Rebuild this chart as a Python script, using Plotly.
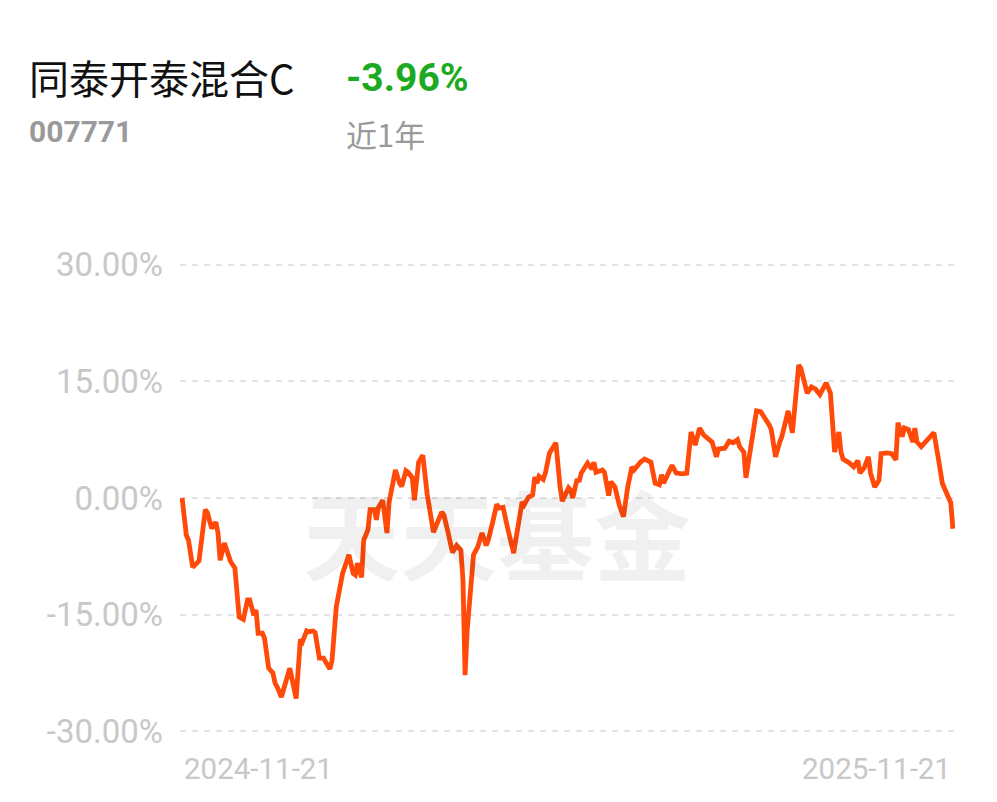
import pandas as pd
import plotly.graph_objects as go

# ---- data ----
start_date = "2024-11-21"
end_date = "2025-11-21"
day_offsets = [0, 2, 3, 5, 8, 11, 12, 14, 16, 17, 18, 20, 23, 25, 27, 29, 31, 32, 34, 35,
               36, 38, 39, 41, 43, 44, 45, 47, 51, 54, 56, 57, 59, 60, 62, 63, 65, 67, 68, 70,
               71, 73, 76, 79, 81, 82, 83, 85, 86, 88, 89, 91, 92, 93, 95, 97, 98, 101, 103, 104,
               106, 107, 109, 110, 112, 114, 116, 119, 123, 124, 126, 128, 130, 132, 133, 134, 135, 137, 138, 140,
               142, 144, 145, 147, 149, 150, 152, 154, 155, 157, 158, 161, 162, 164, 166, 167, 168, 169, 171, 172,
               174, 176, 177, 179, 180, 183, 184, 185, 187, 188, 189, 192, 194, 195, 196, 199, 200, 202, 203, 205,
               207, 209, 211, 213, 214, 217, 219, 222, 224, 226, 227, 228, 230, 232, 234, 237, 239, 241, 243, 245,
               247, 249, 251, 253, 254, 257, 259, 261, 263, 264, 266, 267, 269, 272, 274, 276, 278, 279, 281, 283,
               284, 287, 289, 292, 293, 296, 298, 300, 302, 305, 307, 309, 311, 312, 313, 316, 318, 320, 321, 323,
               325, 326, 328, 330, 331, 334, 336, 338, 339, 341, 342, 344, 346, 347, 348, 350, 353, 356, 358, 360,
               363, 364, 365]
returns_pct = [0.0, -4.8, -5.4, -8.9, -8.1, -1.5, -1.9, -3.9, -3.1, -4.5, -8.0, -5.8, -8.2, -9.0, -15.3, -15.6, -13.1, -13.1, -15.1, -14.4,
               -17.4, -17.4, -18.0, -21.9, -22.5, -23.8, -24.3, -25.6, -21.9, -25.8, -18.2, -18.5, -17.1, -17.2, -17.1, -17.3, -20.6, -20.6, -21.1, -22.0,
               -20.9, -14.0, -9.7, -7.3, -9.7, -9.9, -8.4, -10.2, -5.4, -4.1, -1.5, -1.5, -2.8, -1.2, -0.3, -4.5, -0.6, 3.6, 1.9, 1.5,
               3.5, 3.3, 2.6, -0.3, 4.6, 5.5, 0.6, -4.4, -1.8, -2.2, -4.5, -7.0, -6.1, -6.7, -10.6, -22.8, -17.0, -10.6, -7.3, -6.3,
               -4.5, -6.1, -5.4, -3.2, -0.8, -1.3, -1.2, -3.7, -5.0, -7.1, -5.4, -0.5, -0.9, 0.1, 0.4, 2.7, 1.9, 2.8, 2.4, 3.2,
               5.8, 6.8, 7.1, 1.4, -0.4, 1.3, 1.0, 0.0, 2.4, 2.1, 3.2, 4.5, 3.7, 4.6, 3.3, 3.6, 3.3, 0.3, 2.1, 1.4,
               -0.9, -2.4, 1.4, 4.0, 3.6, 4.6, 5.0, 4.6, 1.9, 1.7, 3.0, 1.9, 3.2, 4.2, 3.2, 3.1, 3.2, 8.5, 6.8, 9.0,
               8.1, 7.6, 7.2, 5.3, 6.3, 6.4, 7.3, 7.1, 7.5, 6.6, 5.9, 2.6, 6.2, 11.2, 11.1, 10.3, 9.4, 8.8, 5.3, 7.2,
               7.9, 11.2, 8.4, 17.1, 16.7, 13.5, 14.3, 14.0, 13.3, 14.8, 13.5, 5.9, 8.5, 5.9, 5.0, 4.5, 4.0, 4.8, 3.2, 3.9,
               5.3, 3.2, 1.4, 2.3, 5.7, 5.8, 5.7, 4.9, 9.7, 7.9, 9.0, 8.8, 7.2, 9.0, 7.2, 6.6, 7.6, 8.4, 5.3, 1.9,
               0.0, -0.6, -3.96]
y_ticks = [-30, -15, 0, 15, 30]
y_tick_labels = ["-30.00%", "-15.00%", "0.00%", "15.00%", "30.00%"]
x_tick_labels = ["2024-11-21", "2025-11-21"]

fund_name = "同泰开泰混合C"
fund_code = "007771"
period_return = "-3.96%"
period_label = "近1年"
watermark = "天天基金"

dates = pd.Timestamp(start_date) + pd.to_timedelta(day_offsets, unit="D")

# ---- layout geometry (page has an 8px body margin) ----
OFF = 8
W, H = 997, 802
ML, MR, MT, MB = 180 - OFF, 42 + OFF, 257 - OFF, 63 + OFF
PW, PH = W - ML - MR, H - MT - MB


def px(xpage):
    return (xpage - OFF - ML) / PW


def py(ypage):
    return (H - MB - (ypage - OFF)) / PH


fig = go.Figure()
fig.add_trace(go.Scatter(
    x=dates, y=returns_pct, mode="lines",
    line=dict(color="#FF4A0A", width=4.8, shape="linear"),
    hoverinfo="skip",
))

font_lat = "Roboto, Noto Sans CJK SC, sans-serif"
font_cjk = "Noto Sans CJK SC, Roboto, sans-serif"

annotations = [
    dict(text=watermark, x=px(497), y=py(530), xref="paper", yref="paper",
         showarrow=False, xanchor="center", yanchor="middle",
         font=dict(family=font_cjk, size=97, color="rgba(0,0,0,0.06)", weight="bold")),
    dict(text=fund_name, x=px(27), y=py(77), xref="paper", yref="paper",
         showarrow=False, xanchor="left", yanchor="middle",
         font=dict(family=font_cjk, size=40, color="#111111")),
    dict(text="<b>" + period_return + "</b>", x=px(344), y=py(78), xref="paper", yref="paper",
         showarrow=False, xanchor="left", yanchor="middle",
         font=dict(family=font_lat, size=39, color="#1DAA22")),
    dict(text="<b>" + fund_code + "</b>", x=px(27), y=py(131), xref="paper", yref="paper",
         showarrow=False, xanchor="left", yanchor="middle",
         font=dict(family=font_lat, size=30, color="#9A9A9A")),
    dict(text=period_label, x=px(344), y=py(133), xref="paper", yref="paper",
         showarrow=False, xanchor="left", yanchor="middle",
         font=dict(family=font_cjk, size=31, color="#9A9A9A")),
    dict(text=x_tick_labels[0], x=dates[0], y=py(769), xref="x", yref="paper",
         showarrow=False, xanchor="left", yanchor="middle",
         font=dict(family=font_lat, size=29.5, color="#C8C8C8")),
    dict(text=x_tick_labels[1], x=dates[-1], y=py(769), xref="x", yref="paper",
         showarrow=False, xanchor="right", yanchor="middle",
         font=dict(family=font_lat, size=29.5, color="#C8C8C8")),
]

fig.update_layout(
    width=W, height=H,
    margin=dict(l=ML, r=MR, t=MT, b=MB),
    paper_bgcolor="white", plot_bgcolor="white",
    showlegend=False,
    annotations=annotations,
    xaxis=dict(
        range=[pd.Timestamp(start_date) - pd.Timedelta(days=1),
               pd.Timestamp(end_date) + pd.Timedelta(days=1)],
        showgrid=False, zeroline=False, showline=False, showticklabels=False, ticks="",
    ),
    yaxis=dict(
        range=[-31, 31],
        tickmode="array", tickvals=y_ticks, ticktext=y_tick_labels,
        showgrid=True, gridcolor="#E3E3E3", gridwidth=1.6, griddash="6px,6px",
        zeroline=False, showline=False, ticks="",
        ticklabelstandoff=16,
        tickfont=dict(family=font_lat, size=33, color="#C8C8C8"),
    ),
)

fig.write_html("out.html")
